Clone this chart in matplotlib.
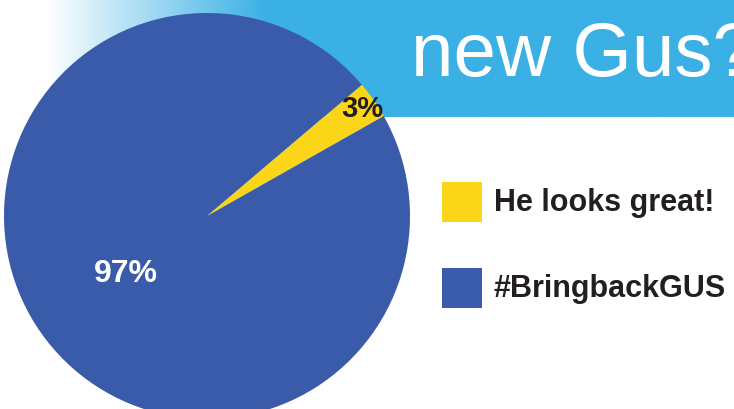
import matplotlib.pyplot as plt
import numpy as np
from matplotlib.patches import Rectangle
from matplotlib.colors import LinearSegmentedColormap

W, H = 734, 410

labels = ["He looks great!", "#BringbackGUS"]
shares = [3, 97]
pct_labels = ["3%", "97%"]
colors = ["#FBD618", "#3A5BA9"]
title = "new Gus?"

BANNER = "#3AB0E4"
TEXT_DARK = "#231F20"

fig = plt.figure(figsize=(W / 100, H / 100), dpi=100)
ax = fig.add_axes([0, 0, 1, 1])

# banner behind the pie, fading in from white on the left
grad = LinearSegmentedColormap.from_list("fade", ["#FFFFFF", BANNER])
ramp = np.clip((np.linspace(0, W, 400) - 45) / 222, 0, 1).reshape(1, -1)
ax.imshow(ramp, cmap=grad, extent=(0, W, H - 118, H), aspect="auto",
          interpolation="bilinear", zorder=0)
ax.text(411, H - 76, title, color="white", fontsize=55,
        family="Liberation Sans", va="baseline", ha="left", zorder=1)

# pie
cx, cy, r = 207, H - 217, 203
wedges, _ = ax.pie(shares, colors=colors, startangle=29.5, counterclock=True,
                   center=(cx, cy), radius=r,
                   wedgeprops=dict(linewidth=0, zorder=2))
for w in wedges:
    w.set_zorder(2)

label_dist = [0.93, 0.49]
label_col = [TEXT_DARK, "white"]
label_size = [21, 23]
for w, txt, d, c, s in zip(wedges, pct_labels, label_dist, label_col, label_size):
    mid = np.deg2rad((w.theta1 + w.theta2) / 2)
    ax.text(cx + d * r * np.cos(mid), cy + d * r * np.sin(mid), txt,
            color=c, fontsize=s, fontweight="bold", family="Liberation Sans",
            ha="center", va="center", zorder=3)

# legend
for i, (lab, col) in enumerate(zip(labels, colors)):
    top = 183 + i * 86
    ax.add_patch(Rectangle((442, H - top - 40), 40, 40, facecolor=col,
                           linewidth=0, zorder=3))
    ax.text(494, H - top - 20, lab, color=TEXT_DARK, fontsize=22,
            fontweight="bold", family="Liberation Sans", va="center",
            ha="left", zorder=3)

ax.set_xlim(0, W)
ax.set_ylim(0, H)
ax.set_aspect("auto")
ax.axis("off")

fig.savefig("out.png", dpi=100)
